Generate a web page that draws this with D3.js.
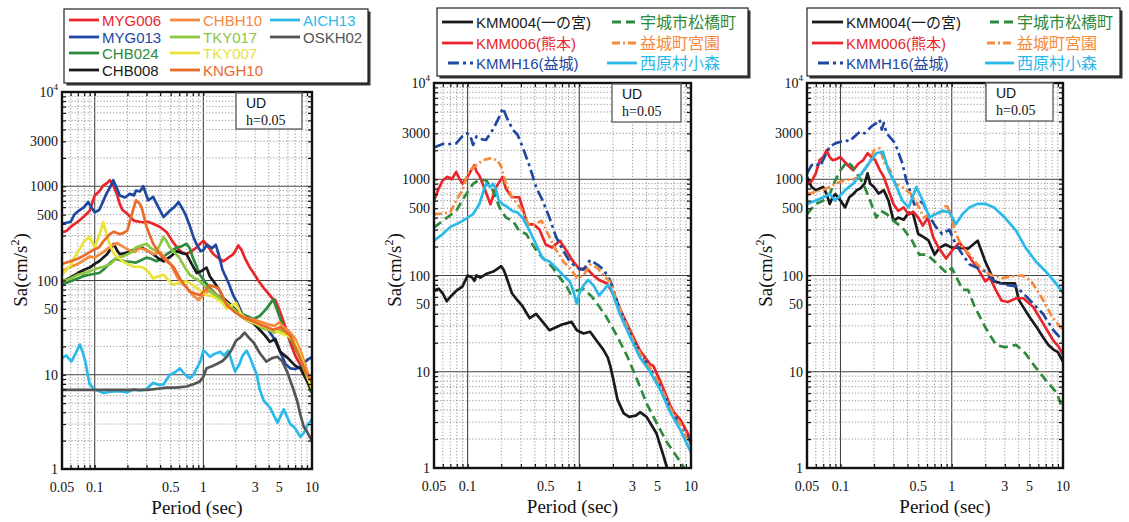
<!DOCTYPE html>
<html>
<head>
<meta charset="utf-8">
<script src="https://cdn.jsdelivr.net/npm/d3@7"></script>
<style>
  html, body { margin: 0; padding: 0; background: #fff; }
  svg { display: block; }
</style>
</head>
<body>
<div id="chart"></div>
<script>
// Response spectra (UD, h=0.05) — three log-log panels

const PERIOD_TICKS = [0.05, 0.1, 0.5, 1, 3, 5, 10];
const SA_TICKS = [1, 10, 50, 100, 500, 1000, 3000, 10000];

// ---- left panel: K-NET / KiK-net stations ----
const leftNames = ['MYG006', 'MYG013', 'CHB024', 'CHB008', 'CHBH10', 'TKY017', 'TKY007', 'KNGH10', 'AICH13', 'OSKH02'];
const leftColors = ['#e8262b', '#2148a0', '#2e8a3c', '#1a1a1a', '#f58a3c', '#8dc63f', '#e9e33a', '#ea6a2a', '#2bb9ea', '#555555'];

const MYG006 = [[0.05,325],[0.055,335],[0.06,370],[0.07,420],[0.08,480],[0.09,550],[0.1,800],[0.11,880],[0.12,1020],[0.13,1080],[0.138,1160],[0.15,990],[0.16,820],[0.17,650],[0.18,560],[0.2,510],[0.23,430],[0.26,420],[0.28,415],[0.31,420],[0.345,400],[0.4,370],[0.46,325],[0.52,260],[0.57,225],[0.63,200],[0.7,190],[0.8,210],[0.87,225],[1.0,265],[1.1,230],[1.24,190],[1.4,170],[1.53,160],[1.7,175],[1.89,190],[2.1,235],[2.25,210],[2.4,175],[2.65,140],[2.9,120],[3.2,100],[3.6,83],[4.0,72],[4.3,65],[4.6,62],[5.1,46],[5.7,32],[6.3,22],[7,16],[7.8,12.7],[8.6,10],[9.7,8.5],[10,8]];
const MYG013 = [[0.05,400],[0.055,410],[0.06,420],[0.065,500],[0.07,540],[0.08,600],[0.087,680],[0.093,600],[0.1,530],[0.11,560],[0.12,700],[0.128,830],[0.14,1000],[0.148,1160],[0.16,950],[0.17,800],[0.19,760],[0.21,830],[0.23,800],[0.24,900],[0.26,880],[0.28,1000],[0.31,710],[0.345,770],[0.38,620],[0.43,470],[0.49,550],[0.54,600],[0.59,680],[0.63,600],[0.68,510],[0.75,380],[0.81,290],[0.87,240],[0.94,205],[1.0,210],[1.08,240],[1.2,220],[1.3,240],[1.4,180],[1.5,130],[1.7,95],[1.89,69],[2.1,55],[2.34,41],[2.6,38],[2.9,35],[3.3,34],[3.8,32],[4.4,25],[5.1,17.5],[5.7,13],[6.3,11.7],[7,11.5],[7.8,12],[8.8,14],[10,15.5]];
const CHB024 = [[0.05,90],[0.06,98],[0.07,105],[0.08,112],[0.09,115],[0.1,118],[0.11,120],[0.12,130],[0.14,155],[0.155,170],[0.17,165],[0.19,160],[0.21,158],[0.24,155],[0.27,165],[0.3,175],[0.33,170],[0.37,160],[0.41,170],[0.46,190],[0.51,205],[0.57,225],[0.63,230],[0.7,245],[0.75,220],[0.8,175],[0.87,140],[0.93,115],[1.05,95],[1.15,83],[1.3,72],[1.45,65],[1.7,57],[1.9,50],[2.2,45],[2.5,42],[2.9,39],[3.3,42],[3.8,50],[4.4,63],[4.8,48],[5.5,31],[6.3,24],[7,19],[7.8,15],[8.8,10],[9.7,6.7],[10,6.5]];
const CHB008 = [[0.05,97],[0.06,108],[0.07,120],[0.08,130],[0.09,137],[0.1,150],[0.11,160],[0.12,175],[0.13,190],[0.15,245],[0.16,210],[0.17,190],[0.19,195],[0.21,205],[0.24,215],[0.27,225],[0.3,210],[0.345,190],[0.39,170],[0.43,160],[0.5,180],[0.57,205],[0.64,195],[0.7,190],[0.78,150],[0.87,120],[0.95,125],[1.07,137],[1.15,110],[1.25,97],[1.4,80],[1.53,65],[1.8,55],[2.1,45],[2.5,38],[2.9,35],[3.3,30],[3.7,26],[4.1,22.3],[4.6,24],[5.1,17.5],[6,15],[7,12.5],[7.8,11.7],[8.8,9],[9.7,7.2],[10,7]];
const CHBH10 = [[0.05,125],[0.06,140],[0.07,150],[0.08,165],[0.09,180],[0.1,175],[0.12,200],[0.14,230],[0.16,250],[0.18,230],[0.2,215],[0.23,200],[0.26,220],[0.3,210],[0.35,190],[0.4,200],[0.45,170],[0.5,150],[0.55,120],[0.6,100],[0.7,85],[0.8,70],[0.9,62],[1.0,70],[1.15,80],[1.3,70],[1.5,60],[1.8,52],[2.1,45],[2.5,40],[3,38],[3.5,36],[4,34],[4.5,33],[5,36],[5.5,32],[6.3,28],[7,24],[8,17],[9,11],[10,8]];
const TKY017 = [[0.05,97],[0.06,105],[0.07,115],[0.08,120],[0.09,125],[0.1,132],[0.12,140],[0.14,150],[0.16,175],[0.18,180],[0.2,190],[0.22,200],[0.24,225],[0.27,235],[0.3,245],[0.33,220],[0.37,205],[0.4,240],[0.43,290],[0.46,260],[0.49,225],[0.54,200],[0.6,175],[0.67,140],[0.75,115],[0.84,105],[0.93,98],[1.05,85],[1.15,76],[1.3,70],[1.43,65],[1.65,58],[1.9,50],[2.2,42],[2.6,37],[3,35],[3.5,31],[4,30],[4.5,28],[5,30],[6,27],[7,21],[8,14],[9,9.5],[10,7.5]];
const TKY007 = [[0.05,115],[0.055,130],[0.06,145],[0.065,175],[0.07,200],[0.08,260],[0.09,290],[0.1,225],[0.11,300],[0.12,415],[0.125,350],[0.13,290],[0.14,230],[0.15,190],[0.165,175],[0.18,160],[0.2,150],[0.23,140],[0.26,140],[0.28,137],[0.31,125],[0.345,105],[0.38,110],[0.43,115],[0.48,100],[0.53,90],[0.6,95],[0.7,98],[0.8,90],[0.87,83],[1.0,75],[1.07,70],[1.2,68],[1.3,65],[1.5,58],[1.64,50],[1.8,54],[2.0,58],[2.2,45],[2.5,38],[3,35],[3.5,33],[4,31],[5,28],[6,26],[7,22],[8,15],[9,10],[10,7]];
const KNGH10 = [[0.05,150],[0.06,160],[0.07,170],[0.08,185],[0.09,200],[0.1,215],[0.11,225],[0.12,260],[0.138,310],[0.15,330],[0.16,320],[0.17,310],[0.185,320],[0.2,340],[0.22,510],[0.24,710],[0.26,650],[0.27,600],[0.3,370],[0.345,245],[0.4,190],[0.46,160],[0.53,140],[0.63,98],[0.75,76],[0.93,70],[1.15,89],[1.38,83],[1.64,55],[2.0,45],[2.4,40],[3,36],[3.6,33],[4.4,30],[5.1,32],[6.3,26],[7.8,15],[9,10],[10,8.5]];
const AICH13 = [[0.05,15],[0.055,16],[0.061,13.8],[0.067,17],[0.073,21],[0.078,17],[0.082,13.8],[0.087,9.5],[0.09,7.9],[0.1,7],[0.11,6.7],[0.12,6.4],[0.14,6.6],[0.17,6.7],[0.2,6.5],[0.23,7],[0.26,6.8],[0.3,7],[0.32,7.6],[0.345,8.2],[0.39,7.8],[0.43,7.9],[0.49,10],[0.54,10.5],[0.61,11.7],[0.68,10],[0.75,9.2],[0.81,10],[0.87,11.7],[0.94,14],[1.0,18],[1.07,17],[1.15,15.5],[1.25,16.5],[1.43,17.5],[1.55,16],[1.7,18],[1.82,14],[1.96,10.8],[2.15,13],[2.3,16],[2.5,18],[2.7,15],[3.1,10],[3.3,7],[3.6,5.3],[4.1,4.5],[4.8,3.1],[5.5,4.3],[6.3,3],[7,2.7],[7.8,2.2],[8.4,2.4],[8.9,2.8],[10,3.4]];
const OSKH02 = [[0.05,6.9],[0.1,6.9],[0.2,6.9],[0.31,6.9],[0.38,7.1],[0.46,7.3],[0.56,7.3],[0.7,7.5],[0.8,7.9],[0.93,8.5],[1.0,9.5],[1.07,11.7],[1.2,12.3],[1.33,13],[1.5,14],[1.64,15.5],[1.8,18],[2.0,23],[2.2,25],[2.4,28],[2.6,25],[2.9,22],[3.3,17],[3.8,13.8],[4.3,15],[4.8,15.5],[5.3,14],[5.9,10.8],[6.6,7.5],[7.3,5.3],[7.8,3.8],[8.4,2.8],[9,2.5],[9.5,2.2],[10,2]];
const leftData = [MYG006, MYG013, CHB024, CHB008, CHBH10, TKY017, TKY007, KNGH10, AICH13, OSKH02];

// ---- middle / right panels: Kumamoto stations ----
const kumaNames = ['KMM004(一の宮)', 'KMM006(熊本)', 'KMMH16(益城)', '宇城市松橋町', '益城町宮園', '西原村小森'];
const kumaColors = ['#1a1a1a', '#e8262b', '#2148a0', '#2e8a3c', '#f58a3c', '#2bb9ea'];
const kumaDash = [null, null, '11,4,3,4', '9,5', '8,3,2,3', null];

const midKMM004 = [[0.05,70],[0.055,73],[0.06,65],[0.065,54],[0.07,60],[0.075,65],[0.08,70],[0.09,77],[0.1,100],[0.11,95],[0.115,88],[0.12,100],[0.13,95],[0.15,105],[0.17,110],[0.19,120],[0.2,125],[0.21,115],[0.22,100],[0.235,80],[0.25,65],[0.28,55],[0.31,48],[0.34,40],[0.36,36],[0.41,40],[0.47,33],[0.54,27],[0.62,29],[0.7,31],[0.78,32],[0.85,33],[0.95,27],[1.09,25],[1.25,26],[1.43,21],[1.64,17],[1.8,14],[1.9,11.3],[2.02,8.2],[2.2,5.1],[2.5,3.7],[2.8,3.4],[3.2,3.5],[3.5,3.8],[4,3.4],[4.9,2.3],[5.6,1.4],[6.1,1.0],[6.3,0.9]];
const midKMM006 = [[0.05,600],[0.055,800],[0.06,980],[0.066,1060],[0.072,1000],[0.079,1190],[0.085,1000],[0.09,900],[0.1,1060],[0.108,1250],[0.115,1400],[0.12,1200],[0.127,1100],[0.14,830],[0.16,550],[0.18,830],[0.206,1060],[0.22,800],[0.25,650],[0.29,650],[0.32,450],[0.34,340],[0.39,340],[0.44,300],[0.5,210],[0.57,195],[0.67,230],[0.77,180],[0.88,140],[1.01,115],[1.15,120],[1.34,100],[1.5,90],[1.76,83],[2.0,65],[2.3,46],[2.85,27],[3.5,16.5],[4.3,12],[4.6,11.5],[5.3,8],[6.5,4.5],[7,3.8],[8,3.2],[10,2.0]];
const midKMMH16 = [[0.05,2140],[0.06,2330],[0.065,2300],[0.079,2360],[0.09,2800],[0.097,3000],[0.105,2900],[0.112,2270],[0.12,2780],[0.135,2600],[0.146,2560],[0.168,3270],[0.193,4500],[0.207,5500],[0.225,4330],[0.254,3270],[0.28,2900],[0.31,2180],[0.36,1350],[0.41,830],[0.47,600],[0.54,400],[0.62,250],[0.72,180],[0.82,140],[0.95,120],[1.09,115],[1.25,145],[1.45,130],[1.65,115],[1.9,88],[2.3,45],[2.85,25],[3.5,15.5],[4.3,11],[5.3,7],[6.5,4],[8,2.9],[10,1.8]];
const midMatsubase = [[0.05,315],[0.06,370],[0.079,470],[0.097,700],[0.112,900],[0.127,980],[0.146,980],[0.168,770],[0.193,510],[0.22,400],[0.254,370],[0.29,290],[0.335,270],[0.38,210],[0.44,165],[0.51,140],[0.58,120],[0.67,95],[0.77,77],[0.83,65],[0.95,70],[1.1,72],[1.3,60],[1.5,48],[1.75,37],[2.2,23],[2.7,14.3],[3.3,8.2],[4.0,4.7],[4.8,3.1],[6.0,1.9],[7.5,1.3],[8.7,1.0],[9,0.9]];
const midMiyazono = [[0.05,435],[0.06,440],[0.07,455],[0.079,600],[0.09,770],[0.1,1150],[0.115,1350],[0.137,1580],[0.16,1650],[0.185,1580],[0.2,1350],[0.22,900],[0.25,650],[0.28,550],[0.31,470],[0.35,340],[0.4,340],[0.46,370],[0.51,290],[0.6,195],[0.72,140],[0.82,120],[0.95,95],[1.09,100],[1.25,130],[1.45,120],[1.65,100],[1.9,85],[2.3,45],[2.85,25],[3.5,15.5],[4.3,11],[5.3,7.2],[6.5,4.2],[8,2.9],[10,1.6]];
const midKomori = [[0.05,230],[0.06,270],[0.07,320],[0.079,340],[0.09,370],[0.1,400],[0.112,435],[0.127,550],[0.146,900],[0.16,830],[0.168,900],[0.18,780],[0.19,600],[0.206,550],[0.225,520],[0.25,470],[0.28,450],[0.31,400],[0.36,290],[0.41,210],[0.47,150],[0.54,140],[0.62,120],[0.72,100],[0.82,87],[0.88,70],[0.95,51],[1.0,65],[1.1,80],[1.2,90],[1.35,78],[1.5,62],[1.65,70],[1.8,80],[1.9,75],[2.3,40],[2.85,23],[3.5,14],[4.3,10],[5.3,6.5],[6.5,3.8],[8,2.5],[10,1.45]];
const midData = [midKMM004, midKMM006, midKMMH16, midMatsubase, midMiyazono, midKomori];

const rgtKMM004 = [[0.05,1060],[0.055,830],[0.06,770],[0.065,800],[0.07,830],[0.075,700],[0.08,555],[0.085,650],[0.09,700],[0.1,600],[0.11,510],[0.12,650],[0.13,700],[0.14,770],[0.15,800],[0.165,900],[0.175,1150],[0.185,900],[0.2,830],[0.22,710],[0.245,770],[0.27,600],[0.3,370],[0.33,400],[0.37,380],[0.41,450],[0.45,435],[0.5,270],[0.56,250],[0.62,230],[0.7,165],[0.78,195],[0.88,210],[1.0,195],[1.15,195],[1.4,190],[1.71,230],[1.85,180],[2.0,140],[2.2,110],[2.4,87],[2.8,83],[3.3,83],[3.7,83],[4.0,56],[4.5,45],[5.0,37],[5.8,29],[6.6,23],[7.4,19],[8.2,17],[9,16],[10,12.7]];
const rgtKMM006 = [[0.05,900],[0.055,950],[0.06,1150],[0.065,1580],[0.07,1700],[0.075,2000],[0.08,1700],[0.085,1580],[0.09,1600],[0.1,1700],[0.11,1500],[0.12,1350],[0.13,1240],[0.145,1450],[0.16,1580],[0.175,1860],[0.19,1700],[0.205,1580],[0.225,1250],[0.245,1060],[0.27,770],[0.3,550],[0.33,470],[0.37,510],[0.41,430],[0.45,460],[0.5,400],[0.55,330],[0.61,400],[0.68,250],[0.76,195],[0.89,150],[1.0,180],[1.17,220],[1.3,190],[1.54,140],[1.7,120],[2.0,87],[2.2,95],[2.5,70],[2.8,55],[3.2,53],[3.8,58],[4.4,58],[5.4,47],[6.6,32],[8.2,21],[9.2,18],[10,15]];
const rgtKMMH16 = [[0.05,1150],[0.055,1400],[0.06,1460],[0.065,1350],[0.07,1600],[0.08,2180],[0.09,2360],[0.1,2450],[0.11,2560],[0.12,2460],[0.13,2700],[0.15,3140],[0.165,3000],[0.19,3540],[0.21,3830],[0.225,4150],[0.235,3270],[0.245,3830],[0.26,3000],[0.31,2360],[0.36,1460],[0.39,980],[0.43,710],[0.47,510],[0.51,600],[0.56,550],[0.62,420],[0.72,320],[0.82,270],[0.95,300],[1.09,210],[1.25,165],[1.45,130],[1.7,120],[2.0,110],[2.4,87],[3.0,80],[3.8,77],[5.0,56],[6.6,40],[8.2,27],[10,21]];
const rgtMatsubase = [[0.05,435],[0.06,555],[0.07,600],[0.08,700],[0.09,980],[0.1,1240],[0.115,1520],[0.125,1400],[0.14,1150],[0.16,900],[0.18,650],[0.21,400],[0.23,470],[0.26,435],[0.3,370],[0.36,315],[0.44,230],[0.51,165],[0.6,165],[0.75,130],[0.9,106],[1.0,120],[1.15,87],[1.25,71],[1.4,71],[1.6,48],[2.0,29],[2.5,19],[3.0,18],[3.8,19],[4.6,15.5],[5.6,11.3],[7,8.2],[8.8,6],[10,4]];
const rgtMiyazono = [[0.05,700],[0.06,740],[0.07,780],[0.08,830],[0.09,900],[0.1,940],[0.11,980],[0.13,1000],[0.15,1060],[0.18,1460],[0.2,2000],[0.225,2100],[0.25,1460],[0.28,1240],[0.31,900],[0.36,830],[0.43,700],[0.49,555],[0.56,400],[0.63,435],[0.72,435],[0.85,470],[0.89,555],[0.95,470],[1.09,270],[1.25,195],[1.45,165],[1.7,130],[2.0,110],[2.3,100],[2.8,94],[3.5,98],[4.3,100],[5.2,87],[6.6,56],[8,37],[10,27]];
const rgtKomori = [[0.05,555],[0.06,600],[0.07,650],[0.08,700],[0.09,600],[0.1,680],[0.11,770],[0.13,900],[0.15,1100],[0.18,1460],[0.21,1860],[0.24,1930],[0.27,1240],[0.31,900],[0.36,600],[0.41,510],[0.48,830],[0.55,600],[0.63,400],[0.72,435],[0.82,470],[0.95,455],[1.09,340],[1.25,435],[1.44,510],[1.7,555],[2.0,555],[2.4,510],[3.0,400],[3.8,290],[4.6,195],[5.7,140],[7,110],[8.3,88],[10,66]];
const rgtData = [rgtKMM004, rgtKMM006, rgtKMMH16, rgtMatsubase, rgtMiyazono, rgtKomori];

const W = 1129, H = 522;
const SERIF = '"Liberation Serif", "Times New Roman", serif';
const SANS = '"Liberation Sans", Arial, "Noto Sans CJK JP", sans-serif';

const svg = d3.select('#chart').append('svg')
    .attr('width', W).attr('height', H)
    .attr('viewBox', `0 0 ${W} ${H}`);

function minorValues(lo, hi) {
    const out = [];
    for (let d = lo; d < hi; d *= 10) {
        for (let k = 1; k < 10; k++) {
            const v = d * k;
            if (v >= lo && v <= hi) out.push(v);
        }
    }
    out.push(hi);
    return out;
}

function drawPanel(cfg, idx) {
    const { L, R, T, B } = cfg;
    const x = d3.scaleLog().domain([0.05, 10]).range([L, R]);
    const y = d3.scaleLog().domain([1, 10000]).range([B, T]);
    const g = svg.append('g');

    const xAll = minorValues(0.01, 10).filter(v => v >= 0.05 - 1e-9);
    const yAll = minorValues(1, 10000);
    const isMajor = v => Math.abs(Math.log10(v) - Math.round(Math.log10(v))) < 1e-6;

    // Grid: dotted minors, solid decades
    g.append('g').selectAll('line.gx')
        .data(xAll.filter(v => v > 0.05 && v < 10))
        .join('line')
        .attr('x1', d => x(d)).attr('x2', d => x(d))
        .attr('y1', T).attr('y2', B)
        .attr('stroke', d => isMajor(d) ? '#444' : '#8a8a8a')
        .attr('stroke-width', d => isMajor(d) ? 1.1 : 0.9)
        .attr('stroke-dasharray', d => isMajor(d) ? null : '1.2,2');

    g.append('g').selectAll('line.gy')
        .data(yAll.filter(v => v > 1 && v < 10000))
        .join('line')
        .attr('y1', d => y(d)).attr('y2', d => y(d))
        .attr('x1', L).attr('x2', R)
        .attr('stroke', d => isMajor(d) ? '#444' : '#8a8a8a')
        .attr('stroke-width', d => isMajor(d) ? 1.1 : 0.9)
        .attr('stroke-dasharray', d => isMajor(d) ? null : '1.2,2');

    // Curves
    const clipId = 'clip' + idx;
    svg.append('clipPath').attr('id', clipId)
        .append('rect').attr('x', L).attr('y', T).attr('width', R - L).attr('height', B - T);

    const line = d3.line().x(d => x(d[0])).y(d => y(d[1]));
    g.append('g').attr('clip-path', `url(#${clipId})`)
        .selectAll('path')
        .data(cfg.data)
        .join('path')
        .attr('d', line)
        .attr('fill', 'none')
        .attr('stroke', (d, i) => cfg.colors[i])
        .attr('stroke-width', 2.7)
        .attr('stroke-linejoin', 'round')
        .attr('stroke-dasharray', (d, i) => cfg.dash ? cfg.dash[i] : null);

    // Inner tick marks on all four sides
    const tickLen = 4;
    const xt = xAll.filter(v => v > 0.05 && v < 10);
    const yt = yAll.filter(v => v > 1 && v < 10000);
    g.append('g').call(d3.axisBottom(x).tickValues(xt).tickSize(-tickLen).tickFormat(''))
        .attr('transform', `translate(0,${B})`);
    g.append('g').call(d3.axisTop(x).tickValues(xt).tickSize(-tickLen).tickFormat(''))
        .attr('transform', `translate(0,${T})`);
    g.append('g').call(d3.axisLeft(y).tickValues(yt).tickSize(-tickLen).tickFormat(''))
        .attr('transform', `translate(${L},0)`);
    g.append('g').call(d3.axisRight(y).tickValues(yt).tickSize(-tickLen).tickFormat(''))
        .attr('transform', `translate(${R},0)`);
    g.selectAll('.domain').remove();
    g.selectAll('.tick line').attr('stroke', '#111').attr('stroke-width', 1.2);

    // Frame
    g.append('rect')
        .attr('x', L).attr('y', T).attr('width', R - L).attr('height', B - T)
        .attr('fill', 'none').attr('stroke', '#111').attr('stroke-width', 2.4);

    // Tick labels
    g.append('g').selectAll('text')
        .data(PERIOD_TICKS)
        .join('text')
        .attr('x', d => x(d))
        .attr('y', B + 23)
        .attr('text-anchor', 'middle')
        .attr('font-family', SERIF)
        .attr('font-size', 14)
        .attr('fill', '#111')
        .text(d => d3.format('')(d));

    const yl = g.append('g').selectAll('text')
        .data(SA_TICKS)
        .join('text')
        .attr('x', L - 4)
        .attr('y', d => y(d) + 5)
        .attr('text-anchor', 'end')
        .attr('font-family', SERIF)
        .attr('font-size', 14)
        .attr('fill', '#111');
    yl.filter(d => d !== 10000).text(d => d);
    yl.filter(d => d === 10000).each(function () {
        const t = d3.select(this);
        t.append('tspan').text('10');
        t.append('tspan').attr('dy', -7).attr('font-size', 9).text('4');
    });

    // Axis titles
    g.append('text')
        .attr('x', (L + R) / 2 + 10)
        .attr('y', B + 45)
        .attr('text-anchor', 'middle')
        .attr('font-family', SERIF)
        .attr('font-size', 19)
        .attr('fill', '#111')
        .text('Period (sec)');

    const ya = g.append('text')
        .attr('transform', `translate(${cfg.ylabelX},${270}) rotate(-90)`)
        .attr('text-anchor', 'middle')
        .attr('font-family', SERIF)
        .attr('font-size', 19)
        .attr('fill', '#111');
    ya.append('tspan').text('Sa(cm/s');
    ya.append('tspan').attr('dy', -8).attr('font-size', 12).text('2');
    ya.append('tspan').attr('dy', 8).text(')');

    // UD / damping box
    const ub = cfg.udBox;
    g.append('rect')
        .attr('x', ub[0]).attr('y', ub[1]).attr('width', ub[2]).attr('height', ub[3])
        .attr('fill', '#fff').attr('stroke', '#666').attr('stroke-width', 1.4);
    g.append('text')
        .attr('x', ub[0] + 10).attr('y', ub[1] + 15)
        .attr('font-family', SANS).attr('font-size', 14).attr('fill', '#111')
        .text('UD');
    g.append('text')
        .attr('x', ub[0] + 10).attr('y', ub[1] + 32)
        .attr('font-family', SERIF).attr('font-size', 14).attr('fill', '#111')
        .text('h=0.05');

    // Legend
    const lg = cfg.legend;
    const box = svg.append('g');
    box.append('rect')
        .attr('x', lg.box[0] + 2.5).attr('y', lg.box[1] + 2.5)
        .attr('width', lg.box[2]).attr('height', lg.box[3])
        .attr('fill', '#333');
    box.append('rect')
        .attr('x', lg.box[0]).attr('y', lg.box[1])
        .attr('width', lg.box[2]).attr('height', lg.box[3])
        .attr('fill', '#fff').attr('stroke', '#222').attr('stroke-width', 1.2);

    const items = box.selectAll('g.item')
        .data(cfg.names.map((n, i) => ({ n, i, c: lg.cols[lg.col[i]], r: lg.rows[lg.row[i]] })))
        .join('g');
    items.append('line')
        .attr('x1', d => d.c[0] + (lg.lineOffset ? (lg.lineOffset[d.i] || 0) : 0))
        .attr('x2', d => d.c[1])
        .attr('y1', d => d.r).attr('y2', d => d.r)
        .attr('stroke', d => cfg.colors[d.i])
        .attr('stroke-width', 2.8)
        .attr('stroke-dasharray', d => cfg.dash ? cfg.dash[d.i] : null);
    items.append('text')
        .attr('x', d => d.c[1] + 3)
        .attr('y', d => d.r + 5.5)
        .attr('font-family', SANS)
        .attr('font-size', d => /^[\u3000-\u9fff]+$/.test(d.n) ? 16 : 15)
        .attr('fill', d => cfg.colors[d.i])
        .text(d => d.n);
}

const panels = [
    {
        L: 62, R: 312, T: 92, B: 469, ylabelX: 27,
        data: leftData, names: leftNames, colors: leftColors,
        udBox: [236, 93, 66, 36],
        legend: {
            box: [64, 9, 304, 74],
            cols: [[69, 99], [170, 200], [270, 300]],
            rows: [20, 37, 53, 70],
            col: [0, 0, 0, 0, 1, 1, 1, 1, 2, 2],
            row: [0, 1, 2, 3, 0, 1, 2, 3, 0, 1]
        }
    },
    {
        L: 434, R: 691, T: 83, B: 468, ylabelX: 401,
        data: midData, names: kumaNames, colors: kumaColors, dash: kumaDash,
        udBox: [612, 84, 69, 38],
        legend: {
            box: [437, 8, 311, 68],
            cols: [[442, 473], [612, 637]],
            rows: [22, 43, 63],
            col: [0, 0, 0, 1, 1, 1],
            row: [0, 1, 2, 0, 1, 2],
            lineOffset: [0, 0, 6, 0, 0, -5]
        }
    },
    {
        L: 807, R: 1063, T: 83, B: 468, ylabelX: 772,
        data: rgtData, names: kumaNames, colors: kumaColors, dash: kumaDash,
        udBox: [986, 83, 67, 38],
        legend: {
            box: [807, 8, 313, 68],
            cols: [[812, 843], [990, 1014]],
            rows: [22, 43, 63],
            col: [0, 0, 0, 1, 1, 1],
            row: [0, 1, 2, 0, 1, 2],
            lineOffset: [0, 0, 6, 0, -3, -5]
        }
    }
];

panels.forEach(drawPanel);
</script>
</body>
</html>
